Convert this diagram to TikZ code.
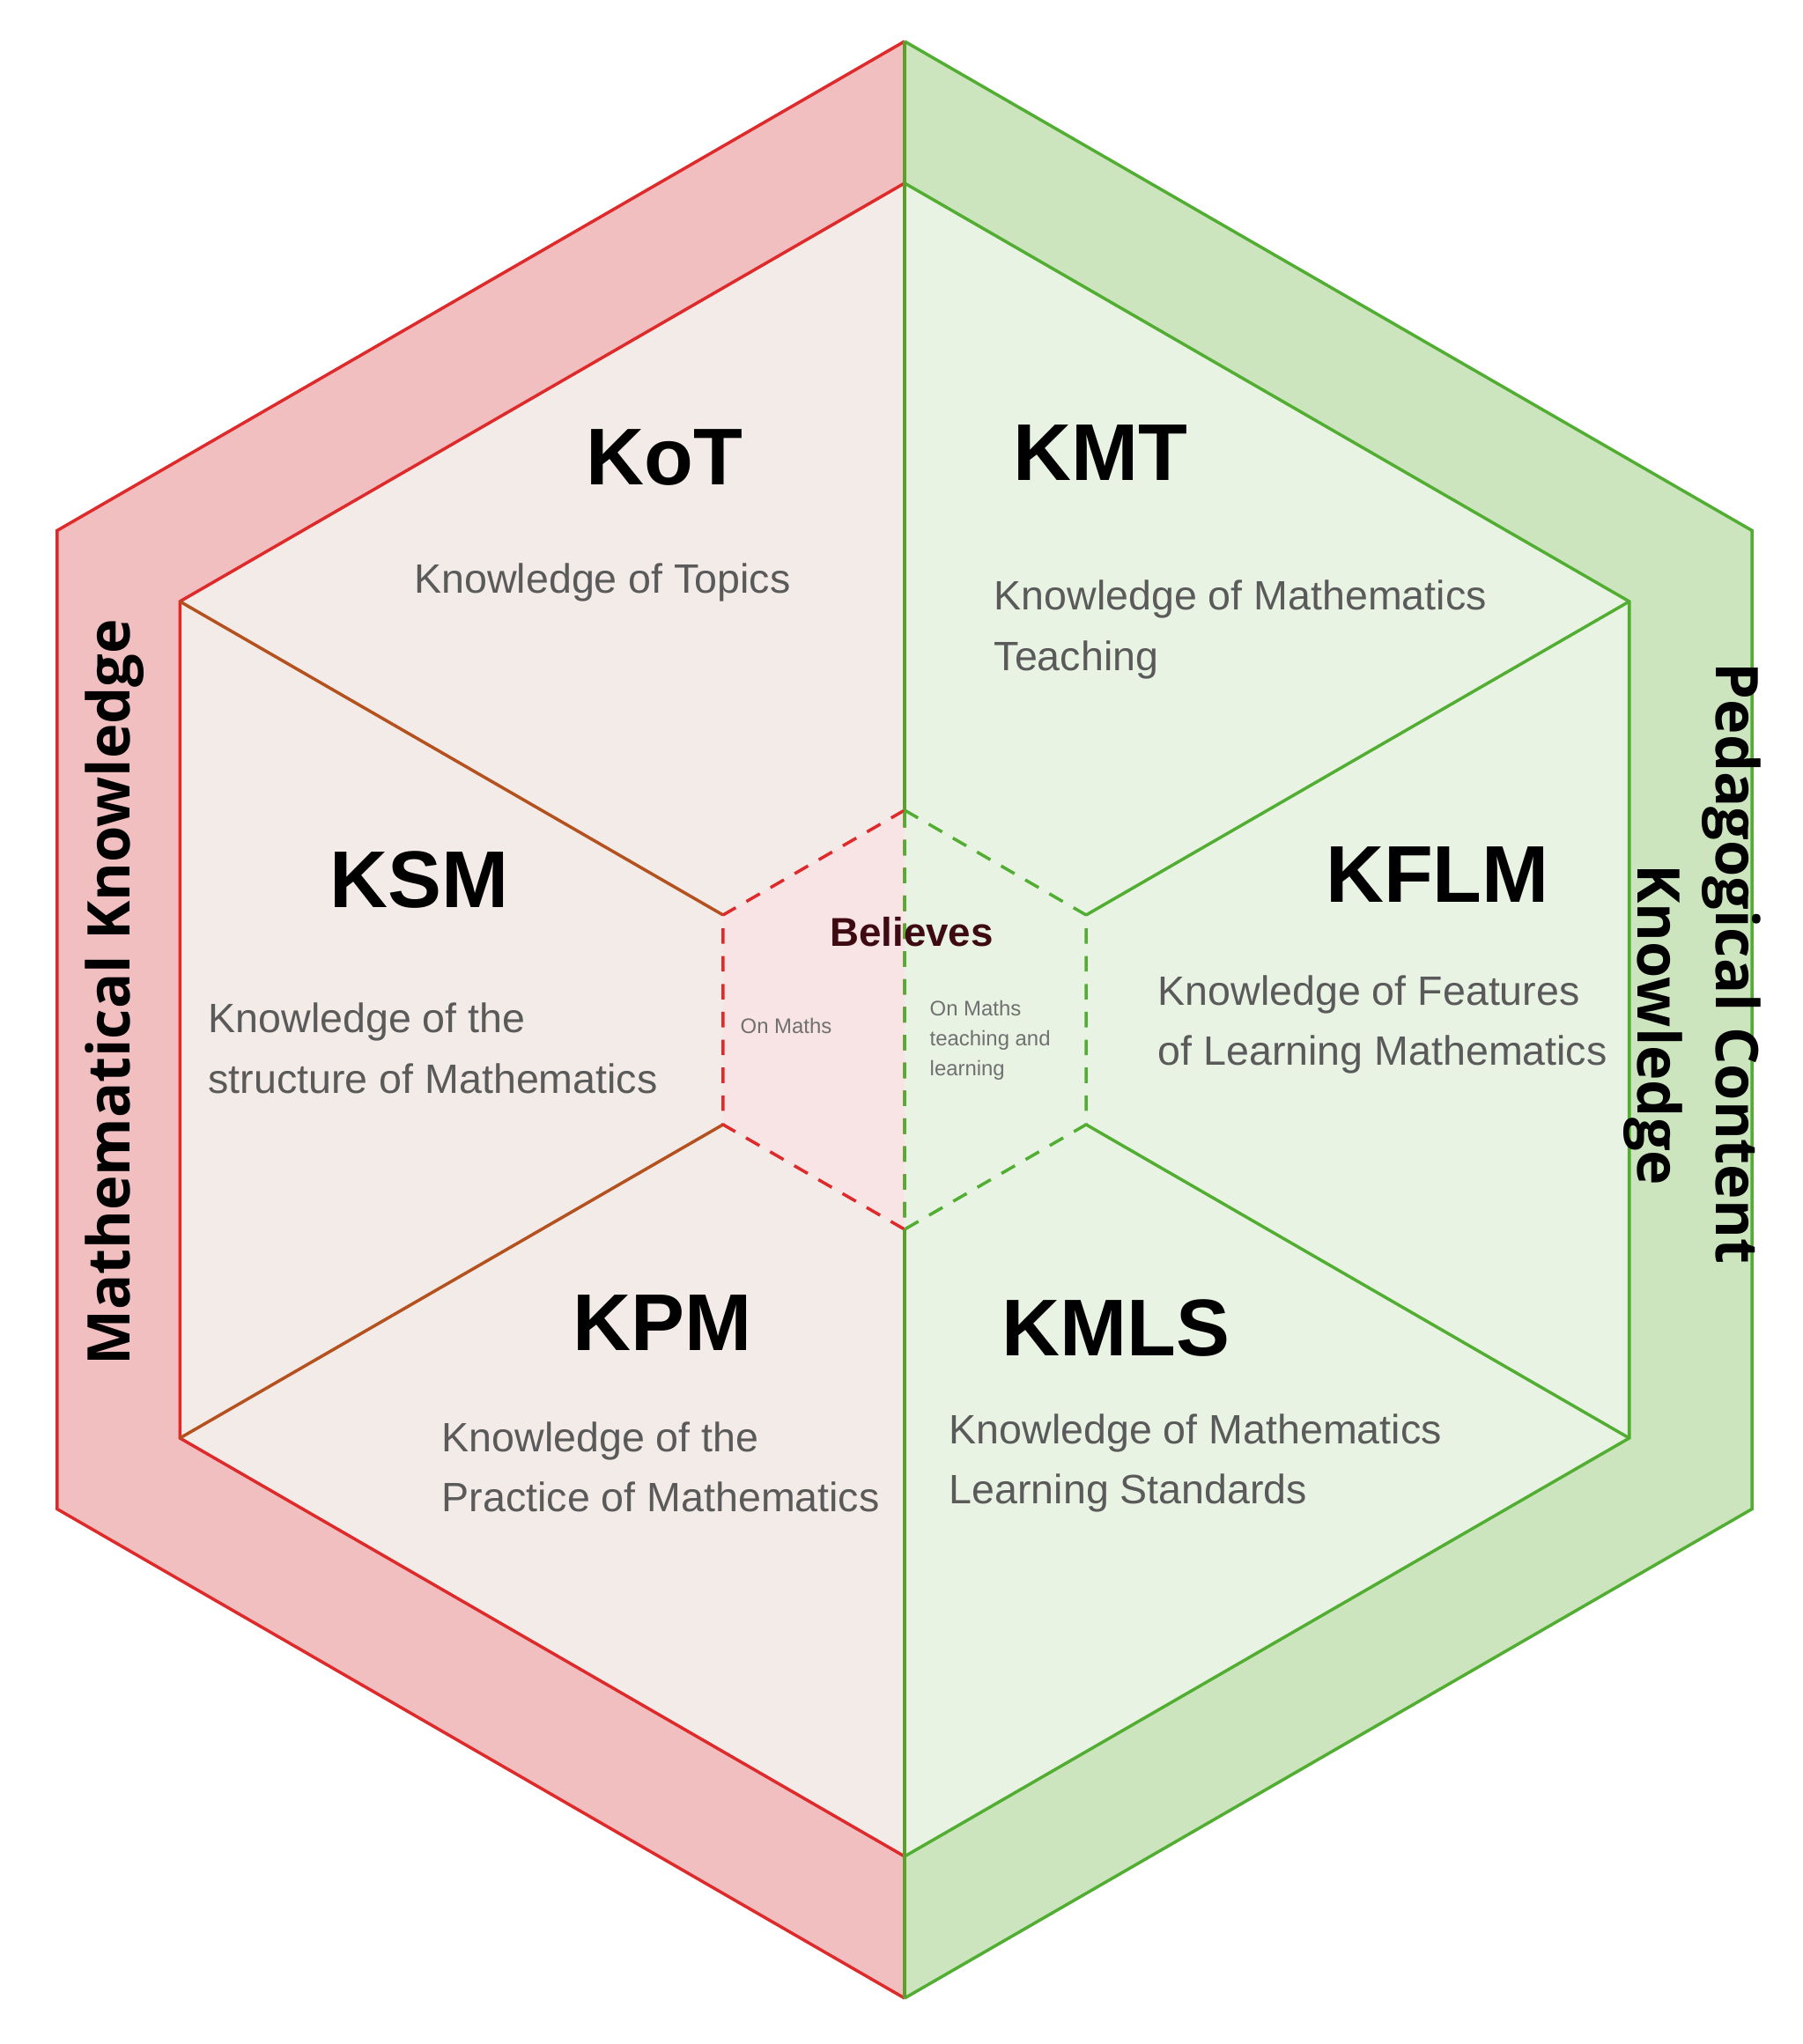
\documentclass[tikz,border=0pt]{standalone}
\usepackage{fontspec}
\setmainfont{Liberation Sans}
\newfontfamily\bandfont{Open Sans}
\usetikzlibrary{calc}
\definecolor{mkred}{HTML}{DE2A2A}
\definecolor{mkband}{HTML}{F2BFC1}
\definecolor{mkfill}{HTML}{F3EBE7}
\definecolor{pcgreen}{HTML}{52AE32}
\definecolor{pcband}{HTML}{CDE5BF}
\definecolor{pcfill}{HTML}{E9F3E3}
\definecolor{axisgreen}{HTML}{5E9E2C}
\definecolor{divbrown}{HTML}{B4511E}
\definecolor{blpink}{HTML}{F9E4E5}
\definecolor{bltext}{HTML}{3E0B12}
\definecolor{desctext}{HTML}{5A5A5A}
\definecolor{minortext}{HTML}{707070}
\tikzset{
	kname/.style={font=\bfseries\fontsize{26}{30}\selectfont},
	kdesc/.style={font=\fontsize{13.25}{19.5}\selectfont, text=desctext, inner sep=0pt, align=left},
	band/.style={font=\bandfont\bfseries\fontsize{19}{23}\selectfont, inner sep=0pt},
	minor/.style={font=\fontsize{6.8}{9.7}\selectfont, text=minortext, inner sep=0pt, align=left},
	edge/.style={line width=1pt}
}
\begin{document}
\begin{tikzpicture}
	\useasboundingbox (0,0) rectangle (20.46,23.21);
	\coordinate (c) at (10.27,11.63);
	\foreach \a in {30,90,150,210,270,330} {
		\coordinate (o\a) at ($(c)+(\a:11.11)$);
		\coordinate (m\a) at ($(c)+(\a:9.5)$);
		\coordinate (s\a) at ($(c)+(\a:2.38)$);
	}
	
	% bands and inner halves
	\fill[mkband] (o90) -- (o150) -- (o210) -- (o270) -- cycle;
	\fill[pcband] (o90) -- (o30) -- (o330) -- (o270) -- cycle;
	\fill[mkfill] (m90) -- (m150) -- (m210) -- (m270) -- cycle;
	\fill[pcfill] (m90) -- (m30) -- (m330) -- (m270) -- cycle;
	\draw[edge, mkred] (o90) -- (o150) -- (o210) -- (o270);
	\draw[edge, mkred] (m90) -- (m150) -- (m210) -- (m270);
	\draw[edge, pcgreen] (o90) -- (o30) -- (o330) -- (o270);
	\draw[edge, pcgreen] (m90) -- (m30) -- (m330) -- (m270);
	
	% dividers
	\draw[edge, divbrown] (m150) -- (s150) (m210) -- (s210);
	\draw[edge, pcgreen] (m30) -- (s30) (m330) -- (s330);
	
	% believes
	\fill[blpink] (s90) -- (s150) -- (s210) -- (s270) -- cycle;
	\draw[edge, mkred, dash pattern=on 5pt off 4pt] (s90) -- (s150) -- (s210) -- (s270) -- cycle;
	\draw[edge, pcgreen, dash pattern=on 5pt off 4pt] (s90) -- (s30) -- (s330) -- (s270) -- cycle;
	\draw[axisgreen, line width=1.4pt] (o90) -- (s90) (s270) -- (o270);
	
	\node[kname] at (7.54,18.01) (kot) {KoT};
	\node[kdesc] at (6.84,16.60) (kotd) {Knowledge of Topics};
	\node[kname] at (12.49,18.07) (kmt) {KMT};
	\node[kdesc, anchor=west] at (11.28,16.06) (kmtd) {Knowledge of Mathematics\\Teaching};
	\node[kname] at (4.76,13.22) (ksm) {KSM};
	\node[kdesc, anchor=west] at (2.36,11.305) (ksmd) {Knowledge of the\\structure of Mathematics};
	\node[kname] at (16.32,13.28) (kflm) {KFLM};
	\node[kdesc, anchor=west] at (13.14,11.575) (kflmd) {Knowledge of Features\\of Learning Mathematics};
	\node[kname] at (7.52,8.19) (kpm) {KPM};
	\node[kdesc, anchor=west] at (5.01,6.55) (kpmd) {Knowledge of the\\Practice of Mathematics};
	\node[kname] at (12.67,8.13) (kmls) {KMLS};
	\node[kdesc, anchor=west] at (10.77,6.595) (kmlsd) {Knowledge of Mathematics\\Learning Standards};
	
	\node[font=\bfseries\fontsize{13}{15}\selectfont, text=bltext] at (10.35,12.63) (bel) {Believes};
	\node[minor, anchor=west] at (8.40,11.56) (onm) {On Maths};
	\node[minor, anchor=west] at (10.55,11.40) (ont) {On Maths\\teaching and\\learning};
	
	\node[band, rotate=90] at (1.30,11.94) (mk) {Mathematical Knowledge};
	\node[band, rotate=-90] at (19.66,12.27) (pck1) {Pedagogical Content};
	\node[band, rotate=-90] at (18.77,11.57) (pck2) {Knowledge};
\end{tikzpicture}
\end{document}
